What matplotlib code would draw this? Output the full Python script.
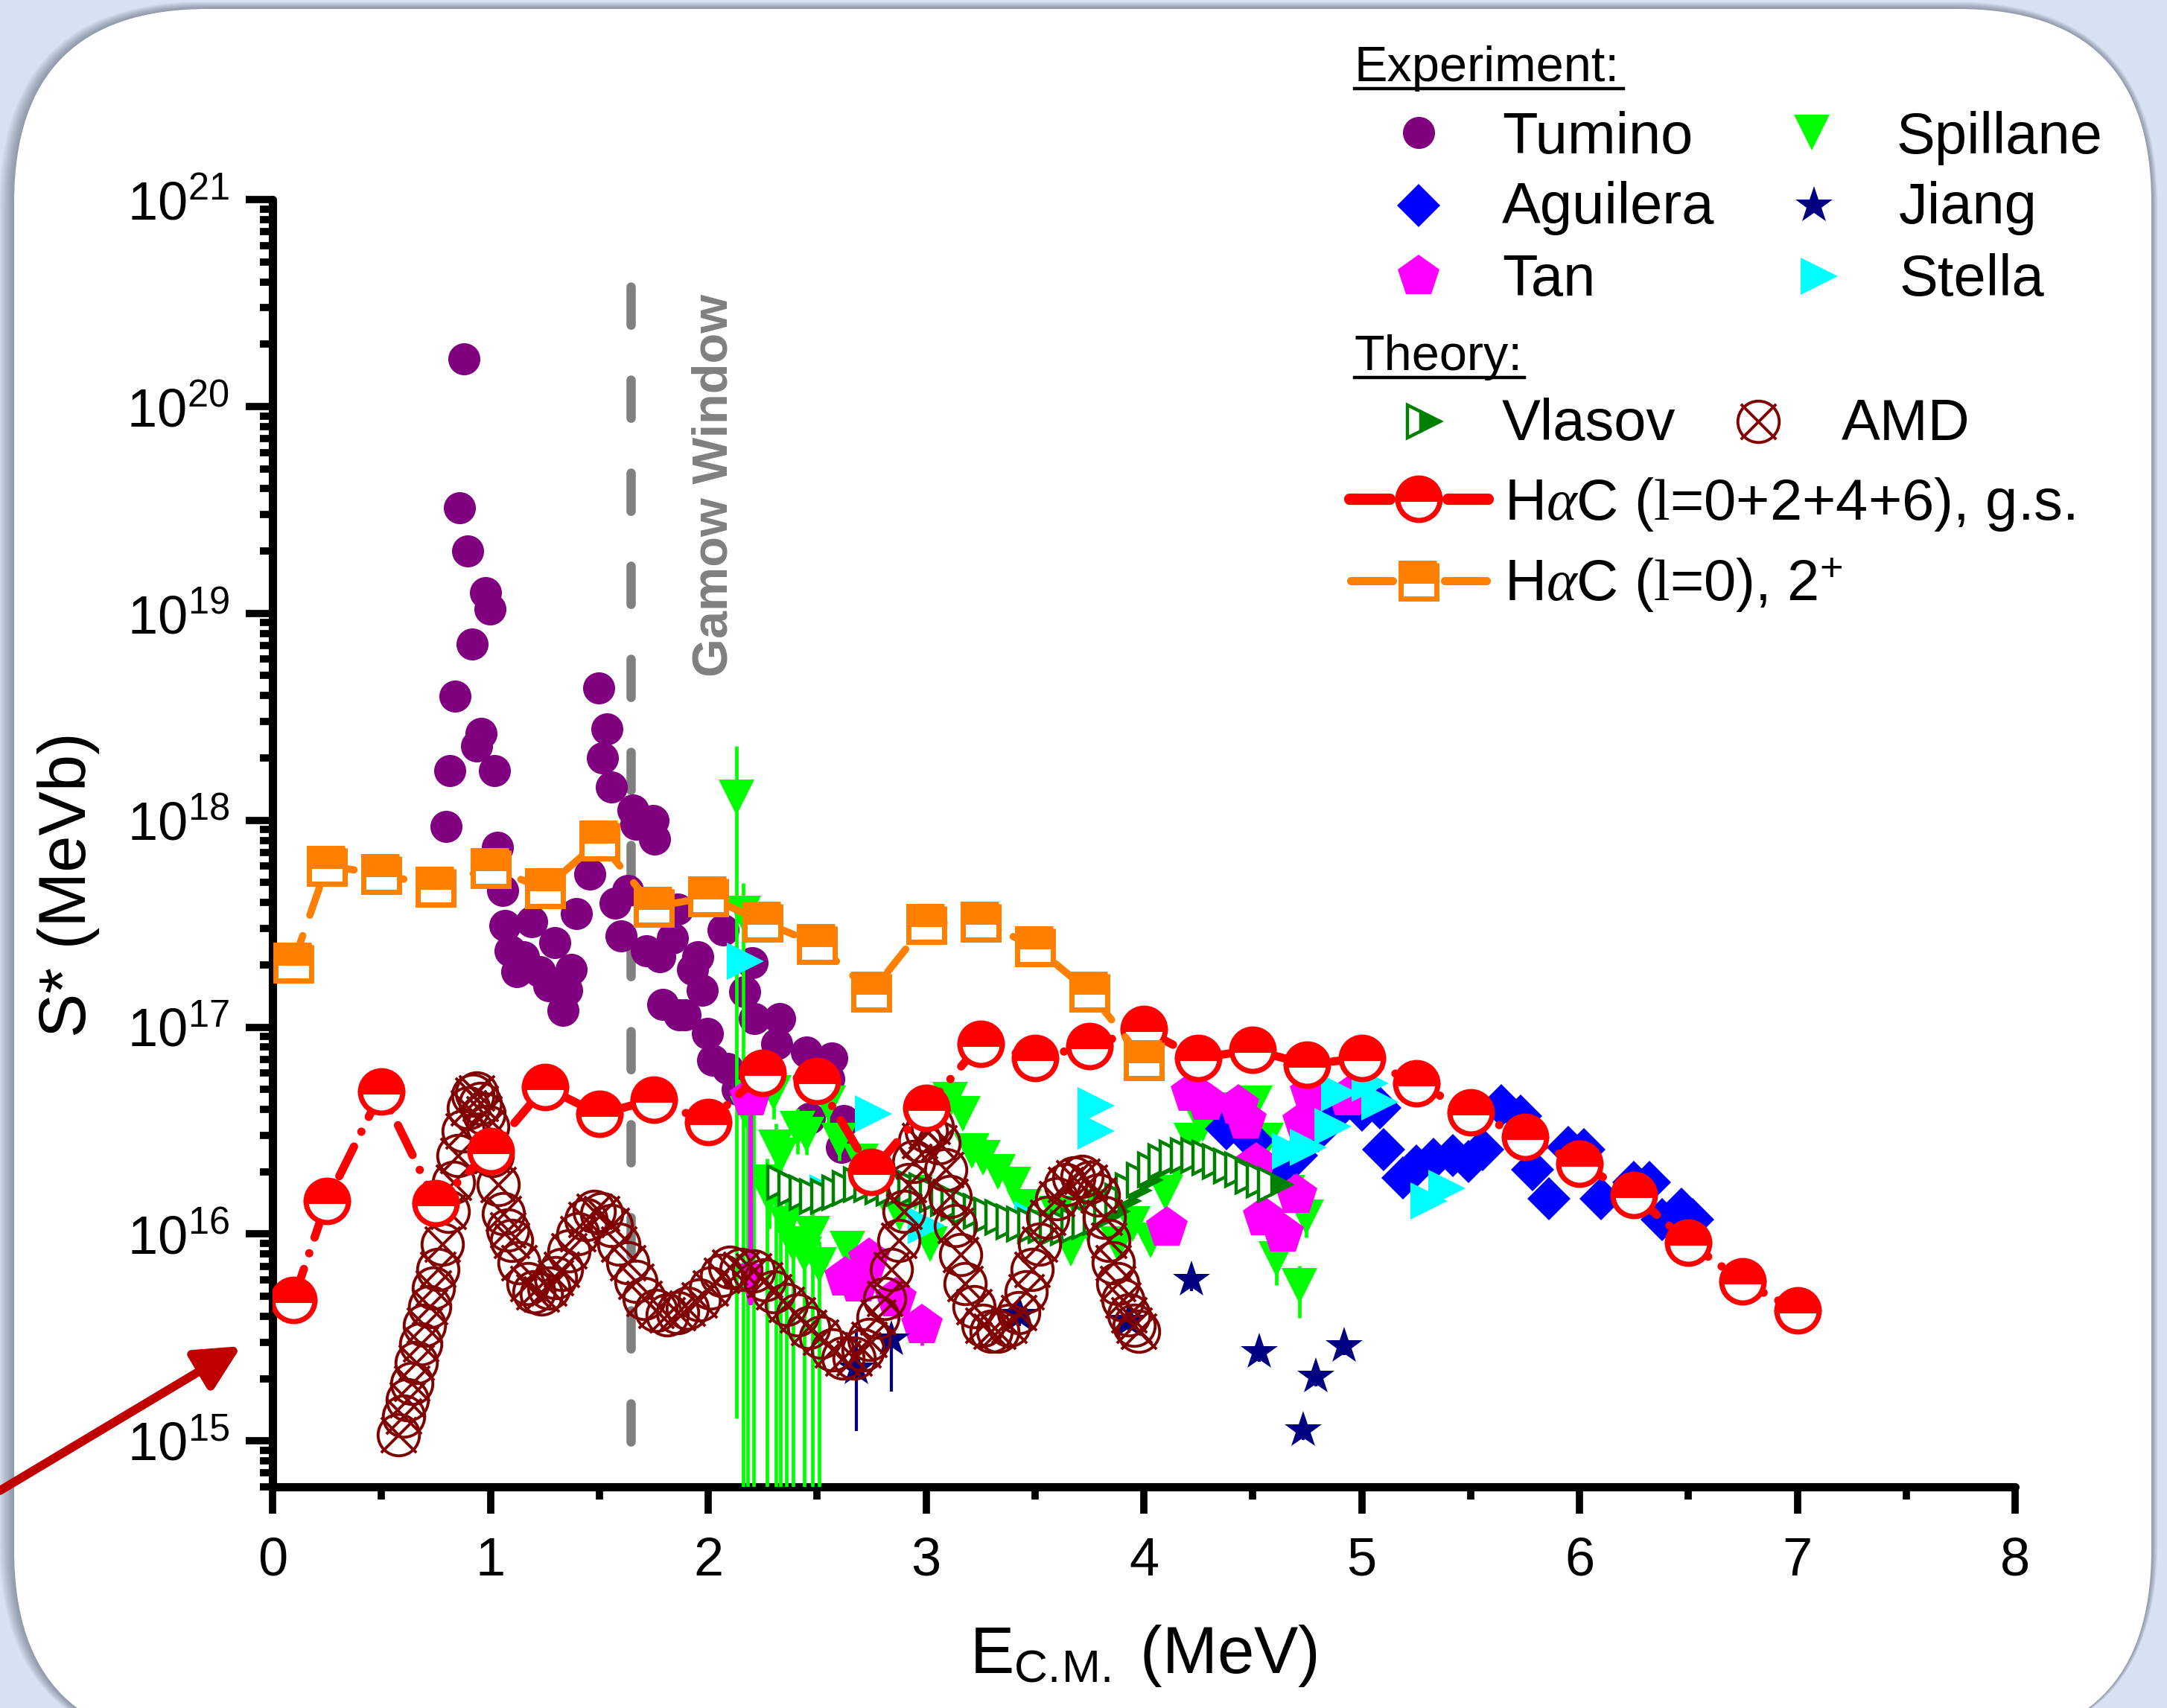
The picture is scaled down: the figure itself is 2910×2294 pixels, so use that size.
import numpy as np
import matplotlib
matplotlib.use("Agg")
import matplotlib.pyplot as plt
from matplotlib.patches import FancyBboxPatch
from matplotlib.path import Path
from matplotlib.ticker import LogLocator, MultipleLocator, FuncFormatter, NullFormatter

# all values: E (MeV), log10 S* (MeV b)
tumino = np.array([
    [0.796, 17.97], [0.815, 18.24], [0.837, 18.60], [0.857, 19.51], [0.878, 20.23],
    [0.895, 19.30], [0.916, 18.85], [0.937, 18.36], [0.957, 18.42], [0.977, 19.10],
    [0.998, 19.02], [1.018, 18.24], [1.032, 17.87], [1.056, 17.66], [1.067, 17.49],
    [1.09, 17.37], [1.12, 17.27], [1.151, 17.34], [1.19, 17.51], [1.227, 17.27],
    [1.27, 17.20], [1.296, 17.41], [1.333, 17.08], [1.35, 17.18], [1.371, 17.28],
    [1.395, 17.55], [1.456, 17.74], [1.496, 18.64], [1.515, 18.30], [1.535, 18.44],
    [1.557, 18.16], [1.572, 17.60], [1.60, 17.44], [1.63, 17.66], [1.655, 18.05],
    [1.67, 17.98], [1.716, 17.37], [1.746, 18.00], [1.754, 17.91], [1.777, 17.34],
    [1.79, 17.11], [1.837, 17.43], [1.86, 17.57], [1.868, 17.06], [1.894, 17.06],
    [1.928, 17.28], [1.951, 17.34], [1.973, 17.18], [1.997, 16.97], [2.02, 16.84],
    [2.07, 17.47], [2.088, 16.80], [2.133, 16.70], [2.167, 17.17], [2.20, 17.31],
    [2.212, 17.04], [2.315, 16.92], [2.327, 17.04], [2.452, 16.88], [2.464, 16.56],
    [2.554, 16.75], [2.567, 16.85], [2.612, 16.42], [2.623, 16.55],
])

# E, log10 S, relative error down, relative error up
spillane = np.array([
    [2.13, 18.11, 0.999, 0.78], [2.16, 17.55, 0.999, 0.40], [2.18, 16.58, 0.999, 0.25],
    [2.21, 16.66, 0.999, 0.30], [2.27, 16.25, 0.999, 0.30], [2.28, 16.18, 0.30, 0.30],
    [2.30, 16.68, 0.25, 0.25], [2.31, 16.42, 0.999, 0.30], [2.33, 16.38, 0.999, 0.30],
    [2.36, 16.05, 0.999, 0.30], [2.39, 15.95, 0.999, 0.30], [2.41, 16.51, 0.25, 0.25],
    [2.44, 15.90, 0.999, 0.30], [2.45, 16.48, 0.20, 0.20], [2.48, 16.00, 0.999, 0.30],
    [2.51, 15.85, 0.999, 0.30], [2.55, 16.63, 0.20, 0.20], [2.60, 16.45, 0.20, 0.20],
    [2.64, 15.93, 0.20, 0.20], [2.70, 16.35, 0.15, 0.15], [2.80, 16.20, 0.15, 0.15],
    [2.88, 16.10, 0.15, 0.15], [2.95, 16.20, 0.15, 0.15], [3.02, 15.95, 0.15, 0.15],
    [3.11, 16.65, 0.15, 0.15], [3.17, 16.58, 0.15, 0.15], [3.21, 16.40, 0.15, 0.15],
    [3.26, 16.37, 0.15, 0.15], [3.33, 16.30, 0.15, 0.15], [3.40, 16.24, 0.15, 0.15],
    [3.45, 16.13, 0.15, 0.15], [3.53, 16.03, 0.15, 0.15], [3.60, 16.10, 0.15, 0.15],
    [3.665, 15.93, 0.15, 0.15], [3.74, 16.05, 0.15, 0.15], [3.80, 16.13, 0.15, 0.15],
    [3.88, 15.95, 0.15, 0.15], [3.95, 16.05, 0.15, 0.15], [4.03, 15.97, 0.15, 0.15],
    [4.10, 16.20, 0.15, 0.15], [4.155, 16.33, 0.15, 0.15], [4.22, 16.45, 0.15, 0.15],
    [4.27, 16.53, 0.15, 0.15], [4.35, 16.55, 0.15, 0.15], [4.42, 16.60, 0.15, 0.15],
    [4.51, 16.63, 0.15, 0.15], [4.56, 16.45, 0.15, 0.15], [4.61, 15.88, 0.25, 0.25],
    [4.66, 16.20, 0.15, 0.15], [4.715, 15.75, 0.30, 0.25], [4.745, 16.08, 0.20, 0.20],
])

aguilera = np.array([
    [4.38, 16.51], [4.50, 16.45], [4.62, 16.32], [4.70, 16.38], [4.80, 16.50],
    [4.90, 16.61], [5.00, 16.60], [5.085, 16.61], [5.10, 16.41], [5.19, 16.27],
    [5.25, 16.33], [5.33, 16.36], [5.42, 16.38], [5.49, 16.35], [5.555, 16.41],
    [5.64, 16.62], [5.73, 16.57], [5.785, 16.31], [5.86, 16.17], [5.95, 16.42],
    [6.02, 16.41], [6.10, 16.17], [6.25, 16.25], [6.32, 16.25], [6.38, 16.07],
    [6.47, 16.12], [6.52, 16.07],
])

# E, log10 S, relative error
tan = np.array([
    [2.195, 16.66, 0.0], [2.63, 15.79, 0.10], [2.69, 15.76, 0.10], [2.74, 15.88, 0.10],
    [2.86, 15.69, 0.20], [2.98, 15.56, 0.20], [4.105, 16.03, 0.05], [4.219, 16.68, 0.05],
    [4.287, 16.64, 0.05], [4.435, 16.62, 0.05], [4.47, 16.55, 0.05], [4.515, 16.34, 0.05],
    [4.55, 16.08, 0.05], [4.64, 16.00, 0.05], [4.70, 16.19, 0.05], [4.73, 16.54, 0.05],
    [4.766, 16.68, 0.05], [4.937, 16.66, 0.05],
])
tan_limit = [2.195, 16.66, 15.62]   # upper limit arrow: E, from, to

# E, log10 S, relative error down, relative error up
jiang = np.array([
    [2.68, 15.35, 0.50, 0.55], [2.84, 15.49, 0.44, 0.17], [3.43, 15.61, 0.12, 0.12],
    [3.93, 15.58, 0.12, 0.12], [4.22, 15.78, 0.12, 0.12], [4.53, 15.43, 0.10, 0.10],
    [4.73, 15.05, 0.10, 0.10], [4.79, 15.31, 0.10, 0.10], [4.92, 15.46, 0.10, 0.10],
])

stella = np.array([
    [2.17, 17.32], [2.55, 16.20], [2.76, 16.58], [3.00, 16.04], [3.49, 16.07],
    [3.78, 16.62], [3.78, 16.50], [4.675, 16.40], [4.755, 16.42], [4.87, 16.52],
    [4.90, 16.68], [5.04, 16.73], [5.085, 16.64], [5.31, 16.16], [5.39, 16.22],
])

vlasov = np.array([
    [2.35, 16.25], [2.40, 16.22], [2.45, 16.20], [2.50, 16.18], [2.55, 16.18],
    [2.60, 16.20], [2.65, 16.22], [2.70, 16.24], [2.75, 16.24], [2.80, 16.23],
    [2.85, 16.22], [2.90, 16.22], [2.95, 16.22], [3.00, 16.21], [3.05, 16.19],
    [3.10, 16.17], [3.15, 16.15], [3.20, 16.13], [3.25, 16.11], [3.30, 16.09],
    [3.35, 16.08], [3.40, 16.06], [3.45, 16.05], [3.50, 16.04], [3.55, 16.04],
    [3.60, 16.03], [3.65, 16.03], [3.70, 16.04], [3.75, 16.06], [3.80, 16.08],
    [3.85, 16.11], [3.90, 16.16], [3.95, 16.21], [4.00, 16.26], [4.05, 16.31],
    [4.10, 16.35], [4.15, 16.37], [4.20, 16.38], [4.25, 16.38], [4.30, 16.37],
    [4.35, 16.35], [4.40, 16.33], [4.45, 16.31], [4.50, 16.28], [4.55, 16.26],
    [4.60, 16.24],
])

amd = np.array([
    [0.577, 15.03], [0.600, 15.12], [0.620, 15.20], [0.638, 15.28], [0.660, 15.38],
    [0.680, 15.47], [0.699, 15.56], [0.720, 15.65], [0.740, 15.74], [0.760, 15.83],
    [0.780, 15.95], [0.806, 16.11], [0.830, 16.25], [0.851, 16.38], [0.875, 16.50],
    [0.898, 16.61], [0.920, 16.67], [0.936, 16.68], [0.955, 16.63], [0.970, 16.58],
    [0.988, 16.52], [1.010, 16.38], [1.035, 16.24], [1.060, 16.10], [1.080, 16.02],
    [1.096, 15.97], [1.130, 15.86], [1.173, 15.76], [1.200, 15.72], [1.234, 15.71],
    [1.270, 15.74], [1.300, 15.79], [1.325, 15.83], [1.360, 15.92], [1.400, 16.00],
    [1.440, 16.07], [1.477, 16.11], [1.510, 16.10], [1.554, 16.04], [1.590, 15.95],
    [1.630, 15.86], [1.670, 15.77], [1.707, 15.69], [1.760, 15.63], [1.813, 15.61],
    [1.860, 15.62], [1.905, 15.64], [1.960, 15.68], [2.010, 15.74], [2.060, 15.80],
    [2.100, 15.84], [2.150, 15.83], [2.210, 15.82], [2.260, 15.78], [2.300, 15.72],
    [2.360, 15.66], [2.410, 15.61], [2.460, 15.55], [2.515, 15.50], [2.570, 15.44],
    [2.620, 15.40], [2.670, 15.40], [2.710, 15.44], [2.740, 15.49], [2.780, 15.60],
    [2.810, 15.69], [2.840, 15.83], [2.875, 15.97], [2.900, 16.11], [2.920, 16.24],
    [2.945, 16.35], [2.970, 16.45], [3.000, 16.50], [3.030, 16.52], [3.060, 16.44],
    [3.090, 16.31], [3.110, 16.18], [3.135, 16.04], [3.160, 15.90], [3.180, 15.76],
    [3.220, 15.65], [3.260, 15.56], [3.300, 15.53], [3.330, 15.53], [3.380, 15.56],
    [3.425, 15.62], [3.460, 15.72], [3.486, 15.83], [3.520, 15.95], [3.560, 16.08],
    [3.600, 16.17], [3.640, 16.24], [3.680, 16.27], [3.715, 16.28], [3.750, 16.25],
    [3.790, 16.19], [3.820, 16.08], [3.840, 15.97], [3.860, 15.86], [3.880, 15.76],
    [3.905, 15.68], [3.930, 15.61], [3.955, 15.56], [3.975, 15.53],
])

hac_gs = np.array([
    [0.095, 15.68], [0.25, 16.16], [0.50, 16.69], [0.75, 16.15], [1.00, 16.40],
    [1.25, 16.71], [1.50, 16.58], [1.75, 16.65], [2.00, 16.54], [2.25, 16.78],
    [2.50, 16.74], [2.75, 16.30], [3.00, 16.61], [3.25, 16.92], [3.50, 16.85],
    [3.75, 16.91], [4.00, 16.99], [4.25, 16.85], [4.50, 16.89], [4.75, 16.82],
    [5.00, 16.85], [5.25, 16.73], [5.50, 16.59], [5.75, 16.47], [6.00, 16.34],
    [6.25, 16.19], [6.50, 15.96], [6.75, 15.77], [7.00, 15.63],
])

hac_2p = np.array([
    [0.095, 17.31], [0.25, 17.78], [0.50, 17.74], [0.75, 17.68], [1.00, 17.77],
    [1.25, 17.67], [1.50, 17.90], [1.75, 17.58], [2.00, 17.63], [2.25, 17.51],
    [2.50, 17.40], [2.75, 17.17], [3.00, 17.50], [3.25, 17.51], [3.50, 17.39],
    [3.75, 17.17], [4.00, 16.84],
])

gamow_E = 1.643
gamow_top = 20.58
ylims = (6e14, 1e21)

plt.rcParams['font.family'] = ['Liberation Sans', 'DejaVu Sans']
plt.rcParams['mathtext.fontset'] = 'custom'
plt.rcParams['mathtext.rm'] = 'Liberation Sans'
plt.rcParams['mathtext.it'] = 'Liberation Serif:italic'
plt.rcParams['mathtext.tt'] = 'Liberation Serif'

# marker sizes (pt)
ms_tum, ms_spl, ms_agu, ms_tan, ms_jia, ms_ste = 15.5, 17, 15, 21, 19, 18
ms_vla, ms_amd, ms_gs, ms_2p = 16, 20, 20.5, 17

W, H = 2910, 2294
fig = plt.figure(figsize=(W / 200, H / 200), dpi=200)
fig.patch.set_facecolor('#d8e2f2')

# background card with soft shadow (pixel coordinates, y down)
bg = fig.add_axes([0, 0, 1, 1], zorder=0)
bg.set_xlim(0, W)
bg.set_ylim(H, 0)
bg.axis('off')
for k in range(14, 0, -1):
    bg.add_patch(FancyBboxPatch((19 - 1.4 * k, 12 - 0.7 * k), 2870 + 2.0 * k, 2330 + k,
                                boxstyle='round,pad=0,rounding_size=%d' % (260 + k),
                                fc='#4a5262', ec='none', alpha=0.045))
bg.add_patch(FancyBboxPatch((19, 12), 2870, 2330, boxstyle='round,pad=0,rounding_size=260',
                            fc='white', ec='none'))

ax = fig.add_axes([366 / W, 1 - 1997 / H, (2706 - 366) / W, (1997 - 268) / H], zorder=1)
ax.patch.set_alpha(0)
ax.set_yscale('log')
ax.set_xlim(0, 8)
ax.set_ylim(*ylims)

# Gamow window
ax.plot([gamow_E, gamow_E], [10 ** gamow_top, ylims[0]], color='#808080', lw=4.5,
        dashes=(4.1, 5.9), dash_capstyle='round', zorder=2)
ax.text(2.03, 10 ** 19.62, 'Gamow Window', rotation=90, ha='center', va='center',
        color='#808080', fontsize=24, fontweight='bold')

ax.plot(tumino[:, 0], 10 ** tumino[:, 1], 'o', color='#800080', ms=ms_tum, mew=0, zorder=3)

S = 10 ** spillane[:, 1]
ax.errorbar(spillane[:, 0], S, yerr=[S * spillane[:, 2], S * spillane[:, 3]], fmt='v',
            color='#00ff00', ms=ms_spl, mew=0, elinewidth=1.7, capsize=7, capthick=1.7, zorder=4)

S = 10 ** tan[:, 1]
ax.errorbar(tan[:, 0], S, yerr=S * tan[:, 2], fmt='p', color='#ff00ff', ms=ms_tan, mew=0,
            elinewidth=1.7, capsize=7, capthick=1.7, zorder=5)
ax.annotate('', xy=(tan_limit[0], 10 ** tan_limit[2]), xytext=(tan_limit[0], 10 ** tan_limit[1]),
            arrowprops=dict(arrowstyle='-|>,head_length=0.9,head_width=0.23', color='#ff00ff',
                            lw=2.3, mutation_scale=20, shrinkA=0, shrinkB=0), zorder=5)

ax.plot(aguilera[:, 0], 10 ** aguilera[:, 1], 'D', color='#0000ff', ms=ms_agu, mew=0, zorder=5)

S = 10 ** jiang[:, 1]
ax.errorbar(jiang[:, 0], S, yerr=[S * jiang[:, 2], S * jiang[:, 3]], fmt='*', color='#000080',
            ms=ms_jia, mew=0, elinewidth=1.5, capsize=7, capthick=1.5, zorder=6)

ax.plot(stella[:, 0], 10 ** stella[:, 1], '>', color='#00ffff', ms=ms_ste, mew=0, zorder=6)

ax.plot(vlasov[:, 0], 10 ** vlasov[:, 1], '>', ls='none', ms=ms_vla, fillstyle='right',
        mfc='#008000', mfcalt='white', mec='#008000', mew=1.6, zorder=7)

circ = Path.unit_circle()
cross = Path([(-0.85, -0.85), (0.85, 0.85), (-0.85, 0.85), (0.85, -0.85)],
             [Path.MOVETO, Path.LINETO, Path.MOVETO, Path.LINETO])
otimes = Path.make_compound_path(circ, cross)
ax.plot(amd[:, 0], 10 ** amd[:, 1], ls='none', marker=otimes, ms=ms_amd, mfc='none',
        mec='#800000', mew=1.4, zorder=8)

ax.plot(hac_gs[:, 0], 10 ** hac_gs[:, 1], color='#ff0000', lw=4, ls=(0, (4, 2, 0.01, 2)),
        dash_capstyle='round', marker='o', ms=ms_gs, fillstyle='top', mfc='#ff0000',
        mfcalt='white', mec='#ff0000', mew=2.5, zorder=10)
ax.plot(hac_2p[:, 0], 10 ** hac_2p[:, 1], color='#ff8000', lw=3.5, ls=(0, (4, 3)),
        dash_capstyle='round', marker='s', ms=ms_2p, fillstyle='top', mfc='#ff8000',
        mfcalt='white', mec='#ff8000', mew=2.5, zorder=11)

# axes styling
for side in ['top', 'right']:
    ax.spines[side].set_visible(False)
for side in ['left', 'bottom']:
    ax.spines[side].set_linewidth(4)
    ax.spines[side].set_capstyle('round')
ax.xaxis.set_major_locator(MultipleLocator(1))
ax.xaxis.set_minor_locator(MultipleLocator(0.5))
ax.yaxis.set_major_locator(LogLocator(base=10, numticks=20))
ax.yaxis.set_minor_locator(LogLocator(base=10, subs=np.arange(2, 10), numticks=20))
ax.yaxis.set_major_formatter(FuncFormatter(lambda v, p: r'$\mathregular{10^{%d}}$' % round(np.log10(v))))
ax.yaxis.set_minor_formatter(NullFormatter())
ax.tick_params(which='major', direction='out', length=13, width=3.5, labelsize=26)
ax.tick_params(which='minor', direction='out', length=6, width=3.5)
ax.tick_params(axis='x', which='major', pad=11)
ax.tick_params(axis='y', which='major', pad=8)

ax.set_xlabel(r'E$_{\mathregular{C.\!M.}}$ (MeV)', fontsize=32, va='top')
ax.xaxis.set_label_coords(0.5, -0.106)
ax.set_ylabel('S* (MeVb)', fontsize=32)
ax.yaxis.set_label_coords(-0.099, 0.468)

# overlay for legend and arrow (pixel coordinates, y down)
ov = fig.add_axes([0, 0, 1, 1], zorder=3)
ov.set_xlim(0, W)
ov.set_ylim(H, 0)
ov.axis('off')

ov.annotate('', xy=(324, 1808), xytext=(0, 2002),
            arrowprops=dict(arrowstyle='-|>,head_length=0.9,head_width=0.45', color='#c00000',
                            lw=4.2, mutation_scale=20, shrinkA=0, shrinkB=0))

hdr = dict(fontsize=24, ha='left', va='baseline')
ov.text(1819, 109, 'Experiment:', **hdr)
ov.plot([1819, 2180], [119, 119], color='black', lw=1.6)
ov.text(1819, 497, 'Theory:', **hdr)
ov.plot([1819, 2047], [507, 507], color='black', lw=1.6)

lt = dict(fontsize=28, ha='left', va='baseline')
ov.plot(1905, 178, 'o', color='#800080', ms=ms_tum, mew=0)
ov.text(2017, 206, 'Tumino', **lt)
ov.plot(1905, 276, 'D', color='#0000ff', ms=ms_agu, mew=0)
ov.text(2017, 300, 'Aguilera', **lt)
ov.plot(1905, 371, 'p', color='#ff00ff', ms=ms_tan, mew=0)
ov.text(2017, 397, 'Tan', **lt)
ov.plot(2433, 178, 'v', color='#00ff00', ms=ms_spl, mew=0)
ov.text(2546, 206, 'Spillane', **lt)
ov.plot(2436, 276, '*', color='#000080', ms=ms_jia, mew=0)
ov.text(2550, 300, 'Jiang', **lt)
ov.plot(2443, 371, '>', color='#00ffff', ms=ms_ste, mew=0)
ov.text(2550, 397, 'Stella', **lt)

ov.plot(1912, 566, '>', ms=ms_vla, fillstyle='right', mfc='#008000', mfcalt='white',
        mec='#008000', mew=1.6)
ov.text(2017, 591, 'Vlasov', **lt)
ov.plot(2361, 566, ls='none', marker=otimes, ms=ms_amd, mfc='none', mec='#800000', mew=1.4)
ov.text(2473, 591, 'AMD', **lt)

ov.plot([1812, 1866], [670, 670], color='#ff0000', lw=5.5, solid_capstyle='round')
ov.plot([1944, 1998], [670, 670], color='#ff0000', lw=5.5, solid_capstyle='round')
ov.plot(1905, 670, 'o', ms=ms_gs, fillstyle='top', mfc='#ff0000', mfcalt='white',
        mec='#ff0000', mew=2.5)
ov.text(2020, 698, r'H$\alpha$C ($\mathtt{l}$=0+2+4+6), g.s.', **lt)

ov.plot([1814, 1870], [780, 780], color='#ff8000', lw=4, solid_capstyle='round')
ov.plot([1940, 1996], [780, 780], color='#ff8000', lw=4, solid_capstyle='round')
ov.plot(1905, 780, 's', ms=ms_2p, fillstyle='top', mfc='#ff8000', mfcalt='white',
        mec='#ff8000', mew=2.5)
ov.text(2020, 806, r'H$\alpha$C ($\mathtt{l}$=0), 2$^{\mathregular{+}}$', **lt)

fig.savefig('out.png', dpi=200, facecolor=fig.get_facecolor())
